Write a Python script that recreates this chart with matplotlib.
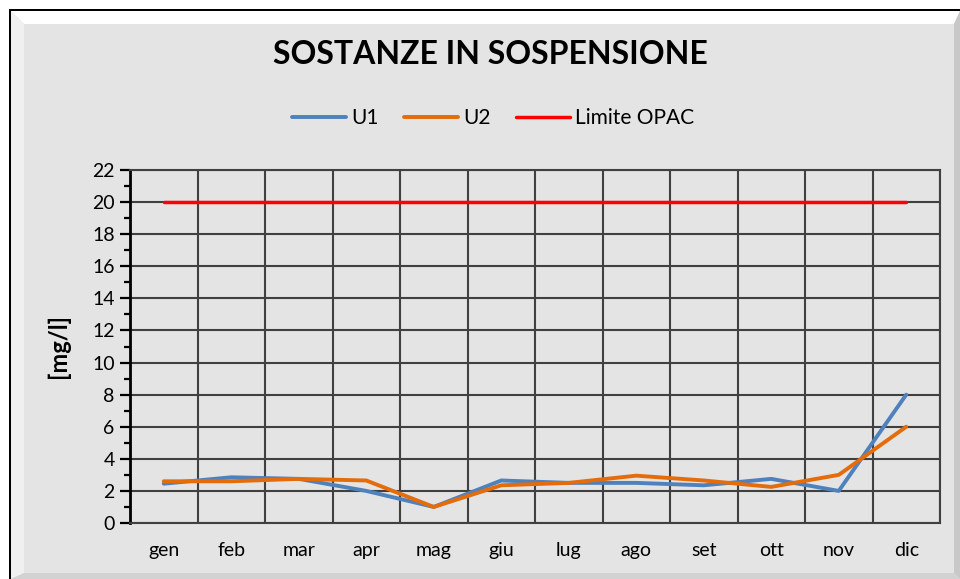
import matplotlib.pyplot as plt
from matplotlib.patches import Polygon, Rectangle
from matplotlib.ticker import MultipleLocator, FixedLocator

# data
mesi = ['gen', 'feb', 'mar', 'apr', 'mag', 'giu', 'lug', 'ago', 'set', 'ott', 'nov', 'dic']
u1 = [2.45, 2.85, 2.75, 2.0, 1.0, 2.65, 2.5, 2.5, 2.35, 2.75, 2.0, 8.0]
u2 = [2.6, 2.6, 2.75, 2.65, 1.0, 2.35, 2.5, 2.95, 2.65, 2.25, 3.0, 6.0]
limite = [20] * 12

W, H = 960, 579
FONT = 'Lato'
BG = '#E4E4E4'

fig = plt.figure(figsize=(W / 100, H / 100), dpi=100, facecolor='white')


def px(x, y):
    return (x / W, 1 - y / H)


def bevel(pts, color, z):
    fig.patches.append(Polygon([px(*p) for p in pts], closed=True, transform=fig.transFigure,
                               facecolor=color, edgecolor='none', zorder=z))


# chart frame with bevel
fig.patches.append(Rectangle(px(9, H), (W - 9) / W, (H - 9) / H, transform=fig.transFigure,
                             facecolor=BG, edgecolor='none', zorder=-3))
bevel([(9, 9), (W, 9), (W, 11), (9, 11)], 'black', -2)
bevel([(9, 9), (11, 9), (11, H), (9, H)], 'black', -2)
bevel([(11, 11), (W, 11), (W - 6, 24), (24, 24)], 'white', -2)
bevel([(11, 11), (24, 24), (24, H - 6), (11, H)], '#F0F0F0', -2)
bevel([(W, 11), (W, H), (W - 6, H - 6), (W - 6, 24)], '#C8C8C8', -2)
bevel([(11, H), (W, H), (W - 6, H - 6), (24, H - 6)], '#D2D2D2', -2)

ax = fig.add_axes([130 / W, 1 - 523 / H, 810 / W, 353 / H])
ax.set_facecolor(BG)

x = list(range(len(mesi)))
ax.plot(x, u1, color='#4F81BD', lw=2.8, label='U1', solid_capstyle='round', zorder=3)
ax.plot(x, u2, color='#E46C0A', lw=2.8, label='U2', solid_capstyle='round', zorder=4)
ax.plot(x, limite, color='#FF0000', lw=2.5, label='Limite OPAC', solid_capstyle='round', zorder=5)

ax.set_xlim(-0.5, len(mesi) - 0.5)
ax.set_ylim(0, 22)
ax.set_xticks(x)
ax.set_xticklabels(mesi, fontsize=14, family=FONT)
ax.xaxis.set_minor_locator(FixedLocator([i - 0.5 for i in range(len(mesi) + 1)]))
ax.tick_params(axis='x', which='both', length=0, pad=14)

ax.yaxis.set_major_locator(MultipleLocator(2))
ax.yaxis.set_minor_locator(MultipleLocator(1))
ax.tick_params(axis='y', which='major', length=7, width=1.6, direction='out', labelsize=14, pad=4)
ax.tick_params(axis='y', which='minor', length=4, width=1.6, direction='out')
for lab in ax.get_yticklabels():
    lab.set_family(FONT)

ax.grid(which='major', axis='y', color='#404040', lw=1.5)
ax.grid(which='minor', axis='x', color='#404040', lw=1.5)
ax.set_axisbelow(True)

for s in ['top', 'right', 'bottom']:
    ax.spines[s].set_color('#404040')
    ax.spines[s].set_linewidth(1.5)
ax.spines['left'].set_color('black')
ax.spines['left'].set_linewidth(2)

ax.set_ylabel('[mg/l]', fontsize=17, fontweight='bold', family=FONT)
ax.yaxis.set_label_coords(-0.074, 0.5)

fig.text(490 / W, 1 - 55 / H, 'SOSTANZE IN SOSPENSIONE', ha='center', va='center',
         fontsize=23, fontweight='bold', family=FONT)

fig.legend(loc='center', bbox_to_anchor=px(493, 118), ncol=3, frameon=False,
           prop={'family': FONT, 'size': 15}, handlelength=2.6, handletextpad=0.25,
           columnspacing=1.2)

fig.savefig('out.png', dpi=100, facecolor='white')
